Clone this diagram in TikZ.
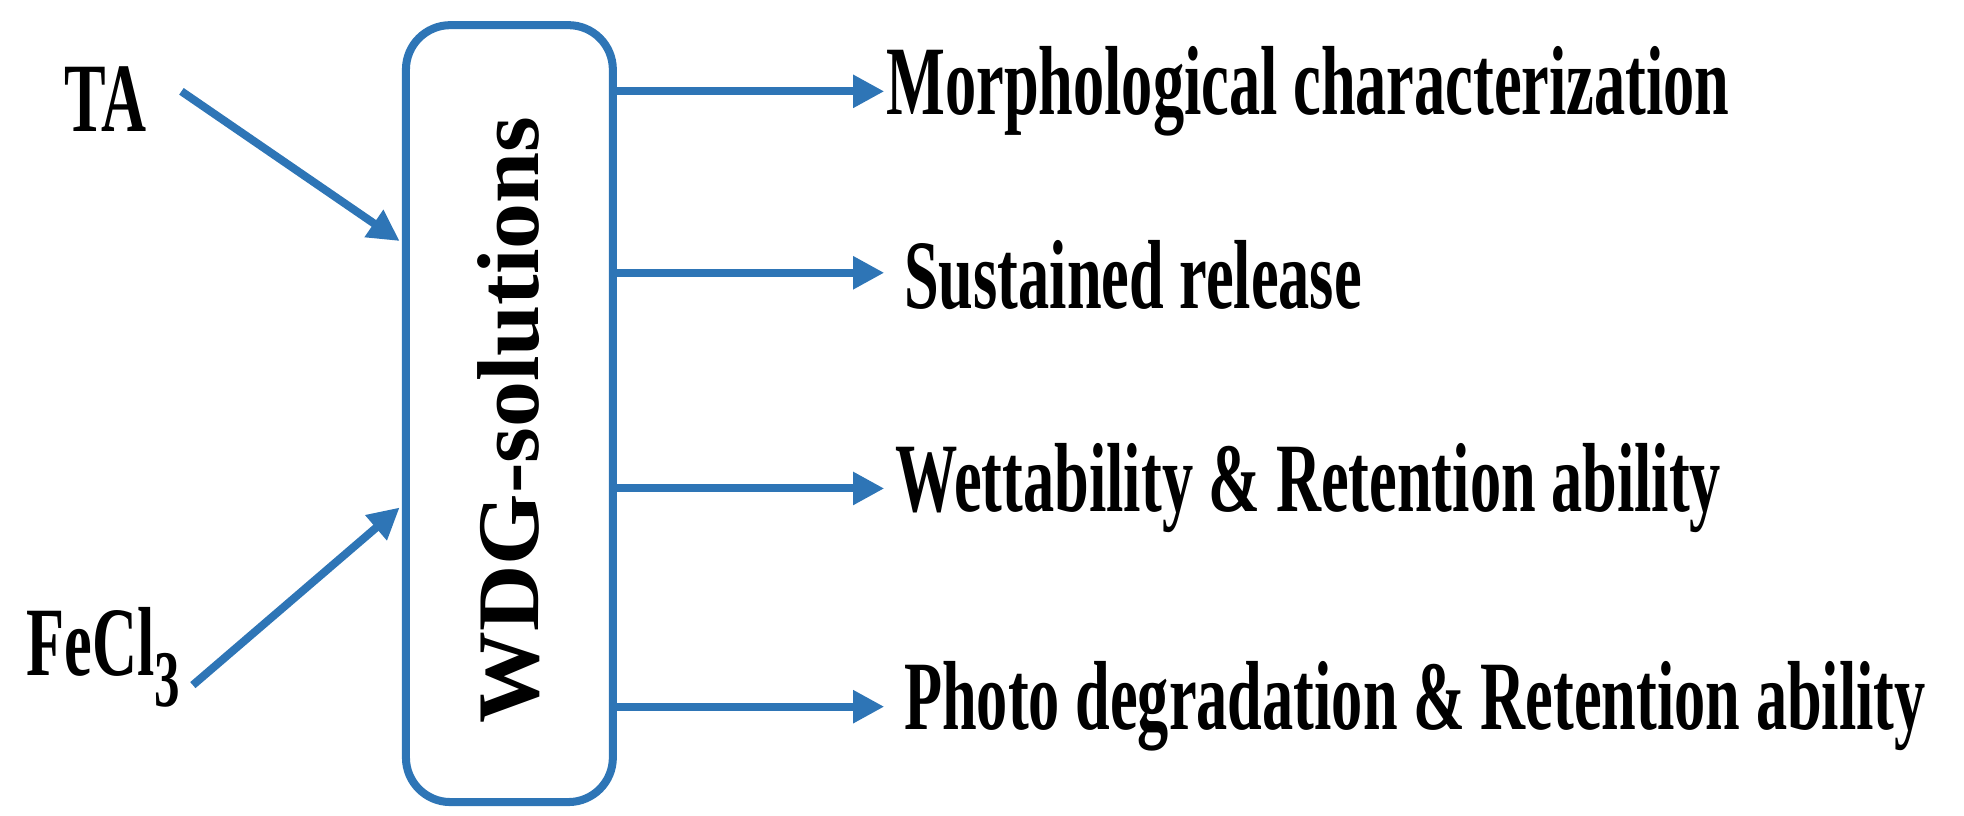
\documentclass[tikz,border=0pt]{standalone}
\usepackage{fontspec}
\setmainfont{Liberation Serif}[FakeStretch=0.635]
\newfontfamily\wide{Liberation Serif}
\usetikzlibrary{arrows.meta}
\definecolor{bl}{RGB}{46,117,182}
\begin{document}
\begin{tikzpicture}[x=0.01cm,y=-0.01cm,
  arr/.style={draw=bl,line width=1.8pt,-{Triangle[length=7pt,width=7pt]}},
  lab/.style={anchor=west,inner sep=0pt,font=\fontsize{22}{26}\selectfont\bfseries}]
\useasboundingbox (0,0) rectangle (1548,643);
\node[draw=bl,line width=1.8pt,rounded corners=0.35cm,minimum width=1.63cm,minimum height=6.12cm] (box) at (401.5,326) {};
\node[rotate=90,inner sep=0pt] (w) at (401,331) {\resizebox{4.78cm}{0.48cm}{\wide\bfseries WDG-solutions}};
\node[lab] (m) at (698,72) {Morphological characterization};
\node[lab] (s) at (712,217) {Sustained release};
\node[lab] (r) at (705,385) {Wettability \& Retention ability};
\node[lab] (p) at (712,557) {Photo degradation \& Retention ability};
\node[lab] (ta) at (50,78) {TA};
\node[lab] (fe) at (20,518) {FeCl\raisebox{-0.7ex}{\fontsize{18}{20}\selectfont 3}};
\coordinate (ts) at (143,72); \coordinate (te) at (315,190);
\coordinate (fs) at (152,540); \coordinate (fe2) at (315,400);
\draw[arr] (ts) -- (te);
\draw[arr] (fs) -- (fe2);
\foreach \n/\y in {m/72,s/215,r/385,p/557}{
  \coordinate (a\n) at (485,\y); \coordinate (b\n) at (697,\y);
  \draw[arr] (a\n) -- (b\n);}
\end{tikzpicture}
\end{document}
